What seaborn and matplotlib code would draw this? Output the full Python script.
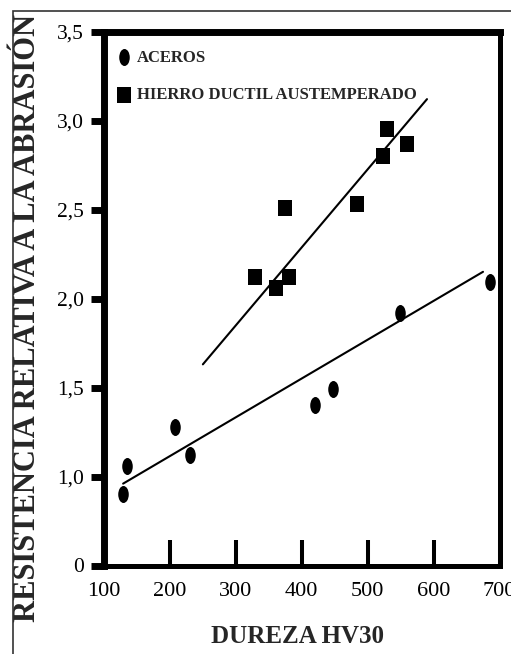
import matplotlib
matplotlib.use("Agg")
import matplotlib.pyplot as plt
import seaborn as sns
from matplotlib.markers import MarkerStyle
from matplotlib.transforms import Affine2D
from matplotlib.patches import Rectangle

# datos
aceros_x = [129, 135, 208, 230, 420, 447, 549, 686]
aceros_y = [0.90, 1.06, 1.28, 1.12, 1.40, 1.49, 1.92, 2.09]

hierro_x = [329, 361, 381, 375, 484, 523, 529, 560]
hierro_y = [2.12, 2.06, 2.12, 2.51, 2.53, 2.80, 2.95, 2.87]

# rectas de ajuste (extremos)
aceros_fit_x = [129, 675]
aceros_fit_y = [0.96, 2.15]
hierro_fit_x = [250, 590]
hierro_fit_y = [1.63, 3.12]

x_ticks = [100, 200, 300, 400, 500, 600, 700]
y_ticks = [0.5, 1.0, 1.5, 2.0, 2.5, 3.0, 3.5]
y_tick_labels = ["0", "1,0", "1,5", "2,0", "2,5", "3,0", "3,5"]

sns.set_style("white")
plt.rcParams["font.family"] = ["Liberation Serif", "DejaVu Serif"]

fig = plt.figure(figsize=(5.11, 6.54), dpi=100)
ax = fig.add_axes([104 / 511, 1 - 565.5 / 654, 395.5 / 511, 534 / 654])

circle = MarkerStyle("o", transform=Affine2D().scale(0.62, 1.0))
square = MarkerStyle("s", transform=Affine2D().scale(0.85, 1.0))

sns.lineplot(x=aceros_fit_x, y=aceros_fit_y, ax=ax, color="black", linewidth=1.5)
sns.lineplot(x=hierro_fit_x, y=hierro_fit_y, ax=ax, color="black", linewidth=1.5)
sns.scatterplot(x=aceros_x, y=aceros_y, ax=ax, marker=circle, s=150,
                color="black", edgecolor="black", linewidth=0, label="ACEROS")
sns.scatterplot(x=hierro_x, y=hierro_y, ax=ax, marker=square, s=135,
                color="black", edgecolor="black", linewidth=0,
                label="HIERRO DUCTIL AUSTEMPERADO")

ax.set_xlim(100, 700)
ax.set_ylim(0.5, 3.5)
ax.set_xticks(x_ticks)
ax.set_xticklabels([str(t) for t in x_ticks])
ax.set_yticks(y_ticks)
ax.set_yticklabels(y_tick_labels)

for side, lw in [("left", 5), ("top", 5), ("right", 3.6), ("bottom", 3.6)]:
    ax.spines[side].set_linewidth(lw)
    ax.spines[side].set_color("black")

ax.tick_params(axis="y", direction="out", length=9.5, width=5, pad=5,
               labelsize=15.5, colors="black", left=True)
ax.tick_params(axis="x", direction="in", length=18.5, width=2.9, pad=12,
               labelsize=16, colors="black", bottom=True)

ax.set_xlabel("DUREZA HV30", fontsize=18, fontweight="bold")
ax.xaxis.set_label_coords(0.49, -0.112)
ax.set_ylabel("RESISTENCIA RELATIVA A LA ABRASIÓN", fontsize=22, fontweight="bold")
ax.yaxis.set_label_coords(-0.158, 0.463)

ax.legend(loc="upper left", bbox_to_anchor=(0.0, 0.988), frameon=False,
          handlelength=1.0, handletextpad=0.3, borderaxespad=0.3,
          labelspacing=1.3, prop={"weight": "bold", "size": 12})

# marco exterior de la figura
fig.add_artist(Rectangle((13 / 511, -0.1), 1.2, 1 - 11 / 654 + 0.1, fill=False,
                         edgecolor="#333333", linewidth=1.2,
                         transform=fig.transFigure))

fig.savefig("out.png", dpi=100)
